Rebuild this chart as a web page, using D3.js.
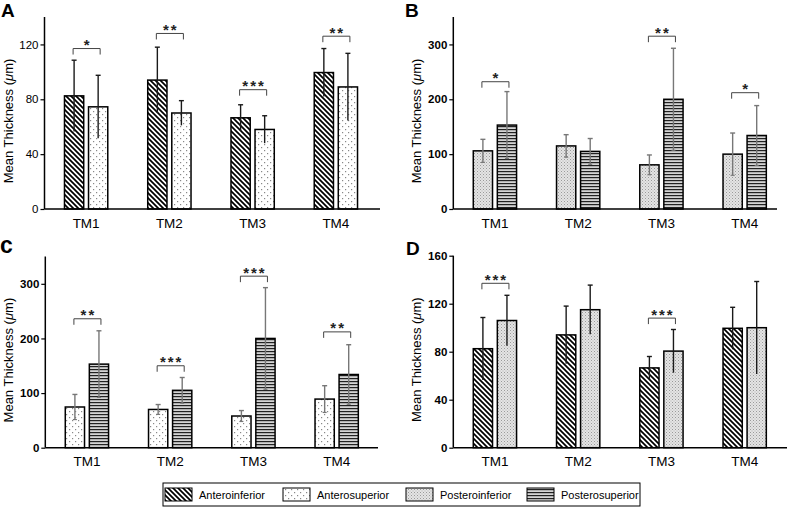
<!DOCTYPE html>
<html><head><meta charset="utf-8">
<script src="https://cdn.jsdelivr.net/npm/d3@7"></script>
<style>body{margin:0;background:#fff}svg{display:block}text{font-family:"Liberation Sans",Arial,sans-serif}</style>
</head><body><svg id="c" width="787" height="522"></svg>
<script>
// ---------- data ----------
const categories = ["TM1", "TM2", "TM3", "TM4"];
const seriesNames = ["Anteroinferior", "Anterosuperior", "Posteroinferior", "Posterosuperior"];
const antInfMean = [82.5, 94, 66.5, 99.5];
const antInfSD   = [26, 24, 9.5, 17.5];
const antSupMean = [74.5, 70, 58, 89];
const antSupSD   = [23, 9, 10, 24.5];
const postInfMean = [106, 115, 80.5, 100];
const postInfSD   = [21, 20.5, 18, 38.5];
const postSupMean = [153, 105, 200, 134];
const postSupSD   = [61, 23.5, 93, 54.5];
const ticksA = [0, 40, 80, 120];
const ticksB = [0, 100, 200, 300];
const ticksC = [0, 100, 200, 300];
const ticksD = [0, 40, 80, 120, 160];
// significance brackets: [category, stars, bracket level]
const sigA = [["TM1", "*", 117], ["TM2", "**", 128], ["TM3", "***", 87], ["TM4", "**", 126]];
const sigB = [["TM1", "*", 232], ["TM3", "**", 315], ["TM4", "*", 212]];
const sigC = [["TM1", "**", 236], ["TM2", "***", 150], ["TM3", "***", 314], ["TM4", "**", 212]];
const sigD = [["TM1", "***", 137], ["TM3", "***", 108]];

const means = [antInfMean, antSupMean, postInfMean, postSupMean];
const sds = [antInfSD, antSupSD, postInfSD, postSupSD];
const patIds = ["pDiag", "pSparse", "pDense", "pHoriz"];

const svg = d3.select("#c");
const defs = svg.append("defs");
// diagonal
let p = defs.append("pattern").attr("id", "pDiag").attr("patternUnits", "userSpaceOnUse").attr("width", 5).attr("height", 5);
p.append("rect").attr("width", 5).attr("height", 5).attr("fill", "#fff");
p.append("path").attr("d", "M-1,-1L6,6M-1,4L1,6M4,-1L6,1").attr("stroke", "#000").attr("stroke-width", 1.7);
// sparse dots
p = defs.append("pattern").attr("id", "pSparse").attr("patternUnits", "userSpaceOnUse").attr("width", 6).attr("height", 6);
p.append("rect").attr("width", 6).attr("height", 6).attr("fill", "#fff");
p.append("rect").attr("x", 0).attr("y", 0).attr("width", 1.2).attr("height", 1.2).attr("fill", "#888");
p.append("rect").attr("x", 3).attr("y", 3).attr("width", 1.2).attr("height", 1.2).attr("fill", "#888");
// dense dots
p = defs.append("pattern").attr("id", "pDense").attr("patternUnits", "userSpaceOnUse").attr("width", 3).attr("height", 3);
p.append("rect").attr("width", 3).attr("height", 3).attr("fill", "#e4e4e4");
p.append("rect").attr("x", 0).attr("y", 0).attr("width", 1).attr("height", 1).attr("fill", "#9a9a9a");
p.append("rect").attr("x", 1.5).attr("y", 1.5).attr("width", 1).attr("height", 1).attr("fill", "#b0b0b0");
// horizontal lines
p = defs.append("pattern").attr("id", "pHoriz").attr("patternUnits", "userSpaceOnUse").attr("width", 4).attr("height", 3);
p.append("rect").attr("width", 4).attr("height", 3).attr("fill", "#d4d4d4");
p.append("rect").attr("y", 0).attr("width", 4).attr("height", 1.2).attr("fill", "#222");

const panels = [
  {letter: "A", pair: [0, 1], yMax: 140, ticks: ticksA, sig: sigA, x0: 44.5, xEnd: 380, yTop: 17, yBase: 209, bold: false, err: "#1a1a1a", lx: 1, ly: 17, lsize: 19, tx: 8, botCap: false},
  {letter: "B", pair: [2, 3], yMax: 350, ticks: ticksB, sig: sigB, x0: 453.3, xEnd: 777, yTop: 17, yBase: 209, bold: true, err: "#777", lx: 405, ly: 17, lsize: 19, tx: 416, botCap: true},
  {letter: "c", pair: [1, 3], yMax: 350, ticks: ticksC, sig: sigC, x0: 45.3, xEnd: 378, yTop: 256.5, yBase: 447.7, bold: true, err: "#777", lx: 0, ly: 253, lsize: 23, tx: 8, botCap: true},
  {letter: "D", pair: [0, 2], yMax: 160, ticks: ticksD, sig: sigD, x0: 453.3, xEnd: 787, yTop: 255.7, yBase: 447.7, bold: true, err: "#1a1a1a", lx: 406, ly: 255, lsize: 19, tx: 416, botCap: false}
];

panels.forEach(P => {
  const g = svg.append("g");
  const x = d3.scaleBand().domain(categories).range([P.x0, P.x0 + 333]).paddingInner(0.48).paddingOuter(0.24);
  const xs = d3.scaleBand().domain(P.pair).range([0, x.bandwidth()]).paddingInner(0.2).paddingOuter(0);
  const y = d3.scaleLinear().domain([0, P.yMax]).range([P.yBase, P.yTop]);

  // bars
  P.pair.forEach(si => {
    categories.forEach((c, i) => {
      const bx = x(c) + xs(si);
      g.append("rect").attr("x", bx).attr("y", y(means[si][i])).attr("width", xs.bandwidth())
        .attr("height", y(0) - y(means[si][i])).attr("fill", `url(#${patIds[si]})`)
        .attr("stroke", "#000").attr("stroke-width", 1.5);
    });
  });
  // error bars
  P.pair.forEach(si => {
    categories.forEach((c, i) => {
      const cx = x(c) + xs(si) + xs.bandwidth() / 2;
      const hi = y(means[si][i] + sds[si][i]), lo = y(means[si][i] - sds[si][i]);
      g.append("line").attr("x1", cx).attr("x2", cx).attr("y1", hi).attr("y2", lo).attr("stroke", P.err).attr("stroke-width", 1.4);
      g.append("line").attr("x1", cx - 2.5).attr("x2", cx + 2.5).attr("y1", hi).attr("y2", hi).attr("stroke", P.err).attr("stroke-width", 1.4);
      if (P.botCap) g.append("line").attr("x1", cx - 2).attr("x2", cx + 2).attr("y1", lo).attr("y2", lo).attr("stroke", P.err).attr("stroke-width", 1.2);
    });
  });
  // y axis
  const ya = g.append("g").attr("transform", `translate(${P.x0},0)`)
    .call(d3.axisLeft(y).tickValues(P.ticks).tickSize(4).tickPadding(2).tickSizeOuter(0));
  ya.select(".domain").remove();
  ya.selectAll(".tick line").attr("stroke", "#000").attr("stroke-width", 1.2);
  ya.selectAll(".tick text").attr("font-size", 11.5).attr("font-weight", P.bold ? "bold" : "normal").attr("fill", "#000")
    .attr("font-family", "Liberation Sans, Arial, sans-serif");
  g.append("line").attr("x1", P.x0).attr("x2", P.x0).attr("y1", P.yTop).attr("y2", P.yBase).attr("stroke", "#000").attr("stroke-width", 1.5);
  // x axis
  const xa = g.append("g").attr("transform", `translate(0,${P.yBase})`)
    .call(d3.axisBottom(x).tickSize(0).tickPadding(9));
  xa.select(".domain").remove();
  xa.selectAll(".tick text").attr("font-size", 13.5).attr("fill", "#000").attr("font-family", "Liberation Sans, Arial, sans-serif");
  g.append("line").attr("x1", P.x0).attr("x2", P.xEnd).attr("y1", P.yBase).attr("y2", P.yBase).attr("stroke", "#000").attr("stroke-width", 1.5);
  // y title
  const t = g.append("text").attr("transform", `translate(${P.tx + 5},${(P.yTop + P.yBase) / 2 + 8}) rotate(-90)`)
    .attr("text-anchor", "middle").attr("font-size", 13).attr("fill", "#000");
  t.append("tspan").text("Mean Thickness (");
  t.append("tspan").attr("font-style", "italic").text("\u03bc");
  t.append("tspan").text("m)");
  // panel letter
  g.append("text").attr("x", P.lx).attr("y", P.ly).attr("font-size", P.lsize).attr("font-weight", "bold").attr("fill", "#000").text(P.letter);
  // significance
  P.sig.forEach(([c, stars, lvl]) => {
    const x1 = x(c) + xs(P.pair[0]) + xs.bandwidth() / 2 - 1;
    const x2 = x(c) + xs(P.pair[1]) + xs.bandwidth() / 2 + 2;
    const yy = y(lvl);
    g.append("path").attr("d", `M${x1},${yy + 6}V${yy}H${x2}V${yy + 6}`).attr("fill", "none").attr("stroke", "#444").attr("stroke-width", 1);
    g.append("text").attr("x", (x1 + x2) / 2 + 1).attr("y", yy + 1.5).attr("text-anchor", "middle").attr("font-size", 15)
      .attr("font-weight", "bold").attr("letter-spacing", 2).attr("fill", "#222").text(stars);
  });
});

// legend
const lg = svg.append("g");
lg.append("rect").attr("x", 163).attr("y", 483).attr("width", 477).attr("height", 23).attr("fill", "#fff").attr("stroke", "#000").attr("stroke-width", 1);
const legX = [165, 283, 406, 527];
seriesNames.forEach((n, i) => {
  lg.append("rect").attr("x", legX[i]).attr("y", 488).attr("width", 27).attr("height", 13).attr("fill", `url(#${patIds[i]})`).attr("stroke", "#000").attr("stroke-width", 1);
  lg.append("text").attr("x", legX[i] + 34).attr("y", 498.5).attr("font-size", 11).attr("fill", "#000").text(n);
});
</script></body></html>
